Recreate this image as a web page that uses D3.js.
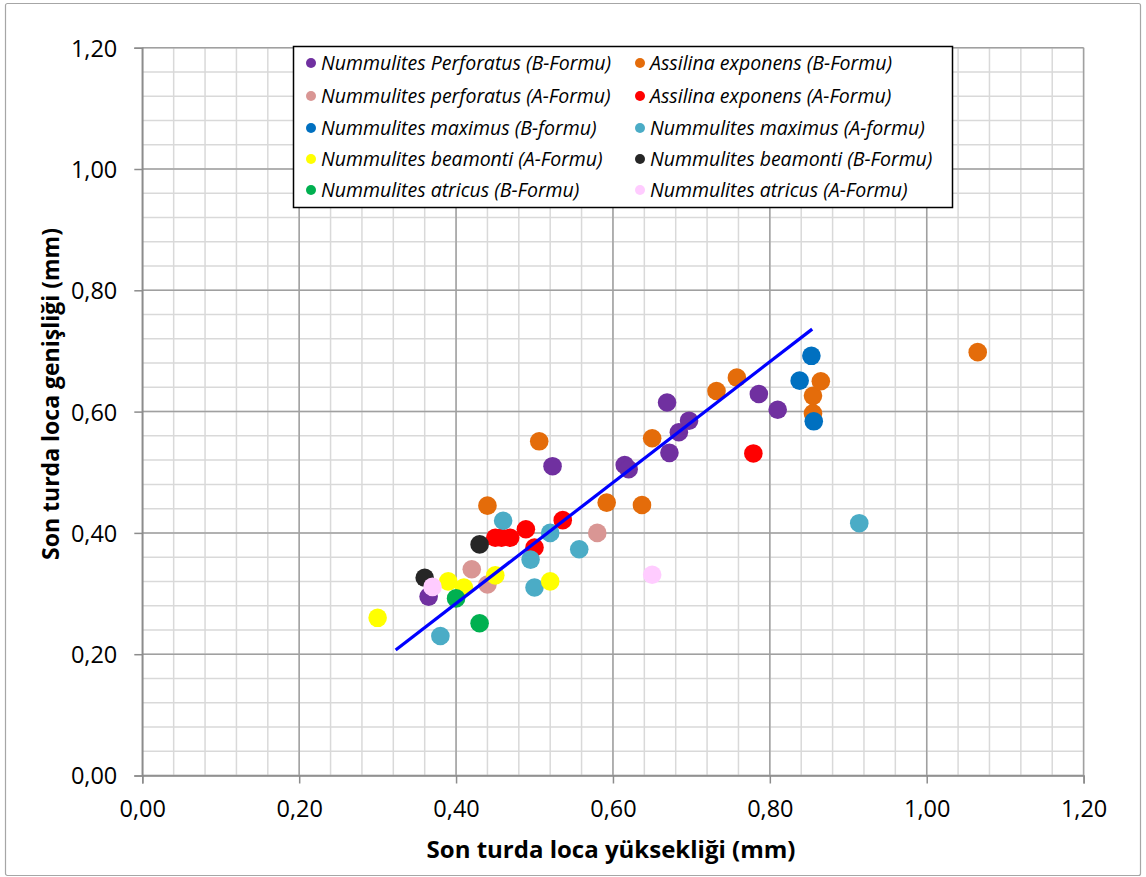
<!DOCTYPE html>
<html><head><meta charset="utf-8">
<script src="https://cdn.jsdelivr.net/npm/d3@7"></script>
<style>html,body{margin:0;padding:0;background:#fff;}svg{display:block;}</style>
</head><body>
<script>
// ---- data ----
const seriesNames = [
  "Nummulites Perforatus (B-Formu)", "Assilina exponens (B-Formu)",
  "Nummulites perforatus (A-Formu)", "Assilina exponens (A-Formu)",
  "Nummulites maximus (B-formu)", "Nummulites maximus (A-formu)",
  "Nummulites beamonti (A-Formu)", "Nummulites beamonti (B-Formu)",
  "Nummulites atricus (B-Formu)", "Nummulites atricus (A-Formu)"
];
const seriesColors = ["#7030A0","#E46C0A","#D99694","#FF0000","#0070C0","#4BACC6","#FFFF00","#262626","#00B050","#FFCCFF"];

const perforatusB_x = [0.365,0.523,0.615,0.620,0.669,0.672,0.684,0.697,0.786,0.810];
const perforatusB_y = [0.295,0.510,0.512,0.505,0.615,0.532,0.566,0.585,0.629,0.603];
const assilinaB_x = [0.440,0.506,0.592,0.637,0.650,0.732,0.758,0.855,0.855,0.865,1.065];
const assilinaB_y = [0.445,0.551,0.450,0.446,0.556,0.634,0.656,0.626,0.597,0.650,0.698];
const perforatusA_x = [0.420,0.440,0.580];
const perforatusA_y = [0.340,0.315,0.400];
const assilinaA_x = [0.450,0.458,0.469,0.489,0.500,0.536,0.779];
const assilinaA_y = [0.392,0.392,0.392,0.406,0.376,0.421,0.531];
const maximusB_x = [0.853,0.838,0.856];
const maximusB_y = [0.692,0.651,0.584];
const maximusA_x = [0.460,0.520,0.495,0.500,0.557,0.380,0.914];
const maximusA_y = [0.420,0.400,0.356,0.310,0.373,0.230,0.416];
const beamontiA_x = [0.300,0.390,0.410,0.450,0.520];
const beamontiA_y = [0.260,0.320,0.310,0.330,0.320];
const beamontiB_x = [0.360,0.430];
const beamontiB_y = [0.326,0.381];
const atricusB_x = [0.400,0.430];
const atricusB_y = [0.292,0.251];
const atricusA_x = [0.370,0.650];
const atricusA_y = [0.311,0.331];

const trend_x = [0.323,0.854];
const trend_y = [0.207,0.736];

const tickValues = [0,0.2,0.4,0.6,0.8,1.0,1.2];
const minorValues = d3.range(0,1.2001,0.04);
const xTitle = "Son turda loca yüksekliği (mm)";
const yTitle = "Son turda loca genişliği (mm)";

const seriesX = [perforatusB_x,assilinaB_x,perforatusA_x,assilinaA_x,maximusB_x,maximusA_x,beamontiA_x,beamontiB_x,atricusB_x,atricusA_x];
const seriesY = [perforatusB_y,assilinaB_y,perforatusA_y,assilinaA_y,maximusB_y,maximusA_y,beamontiA_y,beamontiB_y,atricusB_y,atricusA_y];

// ---- chart ----
const W = 1146, H = 877;
const svg = d3.select("body").append("svg").attr("width",W).attr("height",H);
svg.append("rect").attr("x",5.5).attr("y",3.5).attr("width",1135).attr("height",872)
  .attr("fill","#fff").attr("stroke","#a6a6a6").attr("stroke-width",1.2).attr("rx",2);

const L = 142.3, R = 1083.6, T = 47.7, B = 775.5;
const x = d3.scaleLinear().domain([0,1.2]).range([L,R]);
const y = d3.scaleLinear().domain([0,1.2]).range([B,T]);
const fmt = d => d3.format(".2f")(d).replace(".",",");
const font = "'Open Sans', Lato, sans-serif";

const g = svg.append("g");
// minor grid
g.selectAll("line.mx").data(minorValues).join("line")
  .attr("x1",d=>x(d)).attr("x2",d=>x(d)).attr("y1",T).attr("y2",B)
  .attr("stroke","#d9d9d9").attr("stroke-width",1.5);
g.selectAll("line.my").data(minorValues).join("line")
  .attr("y1",d=>y(d)).attr("y2",d=>y(d)).attr("x1",L).attr("x2",R)
  .attr("stroke","#d9d9d9").attr("stroke-width",1.5);
// major grid
g.selectAll("line.Mx").data(tickValues).join("line")
  .attr("x1",d=>x(d)).attr("x2",d=>x(d)).attr("y1",T).attr("y2",B)
  .attr("stroke","#a0a0a0").attr("stroke-width",1.5);
g.selectAll("line.My").data(tickValues).join("line")
  .attr("y1",d=>y(d)).attr("y2",d=>y(d)).attr("x1",L).attr("x2",R)
  .attr("stroke","#a0a0a0").attr("stroke-width",1.5);

// axes
const xAxis = d3.axisBottom(x).tickValues(tickValues).tickFormat(fmt).tickSize(8).tickPadding(18);
const yAxis = d3.axisLeft(y).tickValues(tickValues).tickFormat(fmt).tickSize(8).tickPadding(17);
const gx = svg.append("g").attr("transform",`translate(0,${B})`).call(xAxis);
const gy = svg.append("g").attr("transform",`translate(${L},0)`).call(yAxis);
[gx,gy].forEach(a=>{
  a.select(".domain").attr("stroke","#8c8c8c").attr("stroke-width",1.5);
  a.selectAll(".tick line").attr("stroke","#8c8c8c").attr("stroke-width",1.5);
  a.selectAll(".tick text").attr("font-family",font).attr("font-size",23.5).attr("fill","#000");
});
gx.selectAll(".tick text").attr("dy","0.66em");
gy.selectAll(".tick text").attr("dy","0.36em");

// points
seriesX.forEach((xs,i)=>{
  svg.append("g").selectAll("circle").data(xs.map((v,j)=>[v,seriesY[i][j]])).join("circle")
    .attr("cx",d=>x(d[0])).attr("cy",d=>y(d[1])).attr("r",9.3)
    .attr("fill",seriesColors[i]);
});

// trend line
svg.append("line").attr("x1",x(trend_x[0])).attr("y1",y(trend_y[0]))
  .attr("x2",x(trend_x[1])).attr("y2",y(trend_y[1]))
  .attr("stroke","#0000FF").attr("stroke-width",3.2);

// titles
svg.append("text").attr("x",611).attr("y",858).attr("text-anchor","middle")
  .attr("font-family",font).attr("font-weight","bold").attr("font-size",24).text(xTitle);
svg.append("text").attr("transform",`translate(59,394) rotate(-90)`).attr("text-anchor","middle")
  .attr("font-family",font).attr("font-weight","bold").attr("font-size",23).text(yTitle);

// legend
const lg = svg.append("g");
lg.append("rect").attr("x",293.5).attr("y",46.5).attr("width",659).attr("height",161)
  .attr("fill","#fff").attr("stroke","#000").attr("stroke-width",1.5);
const rowsY = [63,96,128,159,190];
const colX = [311,640];
seriesNames.forEach((n,i)=>{
  const c = i%2, r = Math.floor(i/2);
  lg.append("circle").attr("cx",colX[c]).attr("cy",rowsY[r]).attr("r",5).attr("fill",seriesColors[i]);
  lg.append("text").attr("x",colX[c]+10).attr("y",rowsY[r]).attr("dy","0.35em")
    .attr("font-family",font).attr("font-style","italic").attr("font-size",19.5).attr("fill","#000").text(n);
});
</script>
</body></html>
